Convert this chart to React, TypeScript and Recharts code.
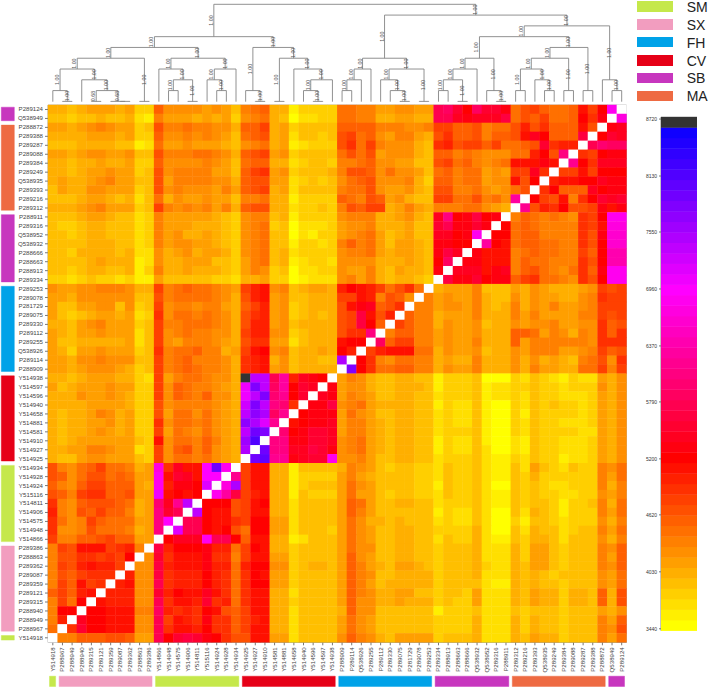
import React from "react";
import { ScatterChart, Scatter, XAxis, YAxis, ReferenceArea } from "recharts";

const FONT = "'Liberation Sans', Arial, sans-serif";

const rowLabels = ["P289124","Q538949","P288872","P289388","P289287","P289088","P289384","P289249","Q538935","P289393","P289216","P289312","P288911","P289316","Q538952","Q538932","P288666","P288663","P288913","P289334","P289253","P289078","P281729","P289075","P289330","P289112","P289255","Q538926","P289114","P288909","Y514938","Y514597","Y514596","Y514940","Y514658","Y514881","Y514581","Y514910","Y514927","Y514925","Y514934","Y514928","Y514924","Y515116","Y514811","Y514906","Y514575","Y514948","Y514866","P289386","P288863","P289362","P289087","P289359","P289121","P289315","P288940","P288949","P288967","Y514918"];
const colLabels = [...rowLabels].reverse();

// Each letter is one level of the colour key; a = lowest, W = highest.
const LEVEL_CODES = "abcdefghijklmnopqrstuvwxyzABCDEFGHIJKLMNOPQRSTUVW";
const KEY_MIN = 3420;
const BAND = 108.6;

// Cells left of the diagonal, top row first, from the first column.
const lowerRows = [
"f fefgggfgdd khhhhghge ijkffbdddd jjiigghhgg vwtqwttr jlmkjjkpmq F",
"e edeefeefcb igggfgfgd hijfeaccdd jjiiffggff vvsrsssu jlkmjjkqnr",
"g gfghihggde liijiihhf kkmfgdeeee kkkkiiihhi mmkklijj lolnkkkpl",
"f fffgggfgdd khhihihge jklfgceede lmjkhgiigf lnkklikk lpsqkkku",
"e eeffffeebc jgghgggfe hijfgbcddd lnjmihhhfe nolmmkmj jkltnoo",
"g gfghhgghee liiijjihf klmghdeeee jljlghhhfe kkijihhh jjoqly",
"f feffgffgdd khhhhihge jkkffcdeed iijkhhggee lmjkihij ppprp",
"f fefgghggde lhiiiigge kmnghdeeef illkhjhhge jkijjghg mmsn",
"f gffghiggee lgiiiihhf kllggcdede hjklhhhifd kkijjghh plq",
"e gffhhgggde lhihhhgig klmfgceeee ijjlhgghfe lliijhgh jl",
"e eefggfefce jfhgghgge iijffbdddd kjilkghfee mmjjlijh A",
"f ffghigggde mihihigif kllffcdded ilkmmfgigf iiijjhgf",
"e eefggfeecd igggggfed hiiefbdddd hiiiffghfe syqruqr",
"e ddeffeeecd igggfffed hijdeacccd ghhifffgee tvrrtr",
"e edeffeeecd ighffgfed hijeeacbdd ghijgefgee ssqrF",
"e eeefffeecd ighhggfed hijeebddcd ikijgeggfe rrqq",
"e edffffefcc hfghfggfd hijefcdddd hiijgfggfe rus",
"e eeefgfffbc hffgggeed gijefbcddc hhhhfffgfe qw",
"e edeffeefbd iffgfffed gihdeaccdd hggifegffe r",
"d dcdeddcdbb geeeeeddc ffgddabccc higifeffed",
"h gghhiiihff mijkjjihg mophiefggf oqpomjlnj",
"g gfhhhhhhee lijjjjihf lopgheefff mmpoilkh",
"g eegghhehde mhiihiigf kmoghdefff lprskln",
"g edefggfgcd nhjjijihf lnoghdefef lmuplo",
"f feghigggde miijjjihf loogheffff lmuqk",
"g fegghgggce mhijiihhf moohhdefff lnny",
"g eefffffgce mhgiiihgf lnnggcefff pqq",
"g fdgghgggde nijjkiifg mpqhieffgf qo",
"g gfhhihhhee mijkiiihf nopfheffee L",
"g gfghhhgfde mijkjiihf nopgheffff",
"f fefgggffdc mgijjihhf WKKvAosrq",
"g efggghggdd mhkjiihgf HOKwAqts",
"f ffhgghgfdd mhkjikhhf HKOxzqt",
"f fffggggfdd lhiiiihgf JOKyxn",
"f effgihfgdd lgjjhjhgf KNLwz",
"f effgghfgdd nhjjijhgf NLIz",
"f effghgfgdd mgjihjhgf KPO",
"f efgggggged phjjikigf MR",
"f fggiihggcd mhklikhgf L",
"f eeghhggged mhjjijhgf",
"l ihjkmjjifg EnsppGPF",
"l khjlljkjgg FptspGG",
"k ihkmmkkkgf ForrqI",
"l kimnnkklgg Hpqpq",
"n ihklllkjfg xszK",
"o ihlkmkkifg ytv",
"n jhimkjjjgg yG",
"n hhiljjjifg y",
"m iikklmkkgg",
"imlpppmnoi",
"illnnmnmq",
"imlopoom",
"ilkmnnn",
"imkpmn",
"kmkop",
"imjq",
"iqq",
"io",
"j",
"",
];

// Cells right of the diagonal, top row first, ending at the last column.
const upperRows = [
"",
"E",
"rs",
"qts",
"vxww",
"nmqrr",
"zqnsss",
"mmpmqqq",
"oppqqsrr",
"nqkkksqrr",
"qmlpinqtst",
"zlonqllmrpr",
"ikjijihnmqFF",
"qjkjiiiinmpEE",
"qqjkkiiiinlrDD",
"AqpjkkjjiinlqDD",
"rpppijkjjiimkqBB",
"rrpppikjjiiinlqBB",
"sssprsikljihjnkrFF",
"urrtqrrkmnjjihnlqFF",
"fgggieee gfhgfffghm lm",
"i ghggifee hfhggffhin mm",
"ii ghhgifef ifhgigghim mm",
"kii fgggifff igiggggiim lm",
"mkii fhggheff hghhigghhn kl",
"ikkii ghgghfff kkjgihfihn kn",
"wkmmii ghggifff kgiiiiiihn nn",
"mopppjj fhggheff hgiiigghim kl",
"qnihjjii fgffifff hfhfgfeijl hn",
"Oqnjjkkii fhggifff hfiggffjjm im",
"gihfeeffee bdddeaaa dcedcbdccg fh",
"r ghhfeefffe bdddebcc ddeddcdddh fh",
"sr gihgeeffee cdddebcc dceddcccdg fh",
"rru hijgffffee bdccebaa dcededdcdg fh",
"qrrr gjhgeeffee cdccebaa dbeddddcdg fh",
"pqrrs giigfeffee cdccebaa dceddcccdg fh",
"xqrtts giigfeffee cdddebaa dceddddccg fh",
"yyrrtts hijgfeffee bdccebaa cbeddcccdg fh",
"Pyyssutr hijgfeffee bdccecaa cbeddcccdg fh",
"PQzzrsttF hhigeeffee cdddecbb dceddbccdg fh",
"mppffbeeee fihgedeedd ceddecbb ecgedceddi hj",
"z mppffbdddd gigfeeeedd ceddecbb edfddddddi gj",
"EL mppffbdeee gjhgeeeedd beddecaa ededccdddi fi",
"FAu mopffbeddd gjggedeedd ceddecbb ededdccddh gi",
"qqql mpqffceeee gkjgeeffee cdddecbb edeedbddei fj",
"Kqppl mppffceeee gkigeeeeee bdccecaa ecfedbdddi gj",
"vvqppn mqqggceeee gjhffefeee cdccecaa dbeedcdddh fi",
"Ivvqpql jqqggceeed gjhgeeffee ddddfcaa ecfeecdeei gj",
"qsssFvvq kppffbceee gjhgeeffee ceddfcbb edffeceeeh fi",
"uoqqqrooj mqpffdeeee gjhheeffee deeefccc fdggedeeei hk",
"ht npppr nni mppggdeeee gkhgeeffee deeefccc fdggedeeei gk",
"hhu opppr ooj oqqhhdeffe gkigfeggfe deeefdcc feggedeeei hk",
"ohhu nooo qonj nqpggdeeee gkiheeffff deeefccc fefedeeeeh gj",
"ophhv nooo qonj nqqggdeeee gkigefffff deeeecbb fefeedeeeh gj",
"ooohht oqppspnj nppffceeee gkihffggee deedgccc fegffdffek fl",
"pooohhv npp otnoj nppffdeeee gkhhffgfff deddgccc fegffdffek fl",
"qqpppiiw onon qplk mppffceeee fkhheeeeee bdddeccc edeeedeeeg fh",
"sqqppphhv mponrnnk mopffceeee gjhgeeeeee ddddfccc fdfeedeeei gk",
"ntqqppphhv nppoqnnk mppffceeee gjhgeeeeee ddddfccc fdfeedeeei hl",
"iikkkllkggv qtutrqnl lppggceeee hkihfegggg deeefccc fegffdeeei gj",
];

const GROUP_COLORS = { SM: "#C5E84B", SX: "#F29DBF", FH: "#00A2E8", CV: "#E60017", SB: "#C736BE", MA: "#EE6A42" };
const legendNames = ["SM", "SX", "FH", "CV", "SB", "MA"];
// Each colour strip: its group and the first and last column it covers.
const stripGroups = ["SM", "SX", "SM", "CV", "FH", "SB", "MA", "SB"];
const stripStarts = [0, 1, 11, 20, 30, 40, 48, 58];
const stripEnds = [1, 11, 20, 30, 40, 48, 58, 60];

const keyTicks = [3440, 4030, 4620, 5200, 5790, 6370, 6960, 7550, 8130, 8720];

// Dendrogram merges: id, left child, right child, height rank, support label.
const merges = [
["a1",1,2,0,"1.00"],["a",0,"a1",1,"1.00"],["c1",4,5,0,"0.68"],["c3",7,8,0,""],["c2",6,"c3",0,"0.68"],
["c","c1","c2",1,"1.00"],["b",3,"c",2,"1.00"],["d","a","b",3,"1.00"],["e",9,10,0,"1.00"],["f","d","e",4,"1.00"],
["h",12,13,1,"1.00"],["i1",14,15,0,"1.00"],["i","h","i1",2,"1.00"],["j",11,"i",3,"1.00"],["k1",17,18,1,"1.00"],
["k2",16,"k1",2,"1.00"],["k","k2",19,3,"1.00"],["l","j","k",4,"1.00"],["m","f","l",5,"1.00"],["n1",21,22,0,"1.00"],
["n",20,"n1",1,"1.00"],["o",23,24,0,"1.00"],["p1",27,28,0,"1.00"],["p2",26,"p1",1,"1.00"],["p3","p2",29,2,"1.00"],
["p",25,"p3",3,"1.00"],["q","o","p",4,"1.00"],["r","n","q",5,"1.00"],["s","m","r",6,"1.00"],
["t",30,31,1,"1.00"],["u","t",32,2,"1.00"],["v","u",33,3,"1.00"],["x1",36,37,0,"1.00"],["x2",35,"x1",1,"1.00"],
["w",34,"x2",2,"1.00"],["x3",38,39,0,"1.00"],["x","w","x3",3,"1.00"],["y","v","x",4,"1.00"],
["f1",40,41,1,"1.00"],["f2",42,43,0,"1.00"],["f3","f1","f2",2,"1.00"],["ff","f3",44,3,"1.00"],
["g1",46,47,0,"1.00"],["g2",45,"g1",1,"1.00"],["dd","ff","g2",4,"1.00"],
["h1",48,49,1,"1.00"],["h2",51,52,1,"1.00"],["h3",50,"h2",2,"1.00"],["hh","h1","h3",3,"1.00"],["h4",53,54,1,"1.00"],
["gg","hh","h4",4,"1.00"],["h5",55,56,1,"1.00"],["ee","gg","h5",5,"1.00"],["bb","dd","ee",6,"1.00"],
["c4",58,59,1,"1.00"],["cc",57,"c4",2,"1.00"],["aa","bb","cc",7,"1.00"],["z","y","aa",8,"1.00"],["root","s","z",9,""],
];

const N = rowLabels.length;
const clean = (s: string) => s.replace(/[^A-Za-z]/g, "");
const valueOfCode = (ch: string) => KEY_MIN + BAND * (LEVEL_CODES.indexOf(ch) + 0.5);

function colorOf(value: number) {
  const k = Math.floor((value - KEY_MIN) / BAND);
  if (k >= 48) return "#333333";
  const hex = (n: number) => Math.round(n).toString(16).padStart(2, "0");
  if (k <= 16) return `#ff${hex(255 * (1 - k / 16))}00`;
  if (k <= 32) return `#ff00${hex((255 * (k - 16)) / 16)}`;
  return `#${hex((255 * (48 - k)) / 16)}00ff`;
}

const heatCells: { x: number; y: number; value: number | null }[] = [];
rowLabels.forEach((_, r) => {
  const low = clean(lowerRows[r]);
  const up = clean(upperRows[r]);
  for (let c = 0; c < N; c++) {
    const diag = N - 1 - r;
    let ch = "";
    if (c < diag) ch = low[c] ?? "";
    else if (c > diag) ch = up[c - diag - 1] ?? "";
    heatCells.push({ x: c + 0.5, y: N - 0.5 - r, value: ch ? valueOfCode(ch) : null });
  }
});

const keyBands = LEVEL_CODES.split("").map((ch) => ({ x: 0.5, y: valueOfCode(ch), value: valueOfCode(ch) }));

// Layout of the tree from the merges
const nodes: Record<string, { x: number; rank: number }> = {};
const nodeOf = (id: any) => (typeof id === "number" ? { x: id + 0.5, rank: -0.03 } : nodes[id]);
const treeLinks: { x: number; y: number }[][] = [];
const treeLabels: { x: number; y: number; text: string; side: string }[] = [];
merges.forEach(([id, l, r, rank]: any) => {
  const a = nodeOf(l);
  const b = nodeOf(r);
  nodes[id] = { x: (a.x + b.x) / 2, rank };
  treeLinks.push([
    { x: a.x, y: a.rank },
    { x: a.x, y: rank },
    { x: b.x, y: rank },
    { x: b.x, y: b.rank },
  ]);
});
merges.forEach(([, l, r, rank]: any) => {
  [[l, "left"], [r, "right"]].forEach(([child, side]: any) => {
    if (typeof child !== "string") return;
    const m: any = merges.find((mm) => mm[0] === child);
    if (m && m[4]) treeLabels.push({ x: nodes[child].x, y: (nodes[child].rank + rank) / 2, text: m[4], side });
  });
});

const PLOT_W = 578.5;
const PLOT_H = 537.3;
const CW = PLOT_W / N;
const CH = PLOT_H / N;
const pxToColumn = (px: number) => px / CW;
const pxToRow = (px: number) => px / CH;

const HeatCell = (props: any) => {
  const { cx, cy, payload } = props;
  const fill = payload.value == null ? "#ffffff" : colorOf(payload.value);
  return <rect x={cx - CW / 2 - 0.2} y={cy - CH / 2 - 0.2} width={CW + 0.4} height={CH + 0.4} fill={fill} />;
};

const KEY_W = 36;
const KEY_H = 513.7;
const KEY_MAX = KEY_MIN + BAND * LEVEL_CODES.length;
const KeyBand = (props: any) => {
  const { cx, cy, payload } = props;
  const h = (KEY_H / (KEY_MAX - KEY_MIN)) * BAND;
  return <rect x={cx - KEY_W / 2} y={cy - h / 2 - 0.2} width={KEY_W} height={h + 0.4} fill={colorOf(payload.value)} />;
};

const BottomTick = ({ x, y, payload }: any) => (
  <text x={x + 2} y={y} textAnchor="end" transform={`rotate(-90 ${x + 2} ${y})`} fontSize={6.1} fontFamily={FONT} fill="#444">
    {colLabels[Math.floor(payload.value)]}
  </text>
);
const LeftTick = ({ x, y, payload }: any) => (
  <text x={x} y={y + 2} textAnchor="end" fontSize={6.1} fontFamily={FONT} fill="#444">
    {rowLabels[N - 1 - Math.floor(payload.value)]}
  </text>
);
const KeyTick = ({ x, y, payload }: any) => (
  <text x={x} y={y + 1.8} textAnchor="end" fontSize={5} fontFamily={FONT} fill="#333">
    {payload.value}
  </text>
);
const TreeLabel = ({ cx, cy, payload }: any) => {
  const x = cx + (payload.side === "left" ? -1 : 1.4);
  return (
    <text x={x} y={cy} textAnchor="middle" transform={`rotate(-90 ${x} ${cy})`} fontSize={5.3} fontFamily={FONT} fill="#555">
      {payload.text}
    </text>
  );
};
const NoMark = () => <g />;

const centres = rowLabels.map((_, i) => i + 0.5);
const abs = (left: number, top: number): React.CSSProperties => ({ position: "absolute", left, top });

export default function App() {
  return (
    <div style={{ position: "absolute", left: 0, top: 0, width: 709, height: 688, background: "#fff", overflow: "hidden" }}>
      <div style={abs(0, 0)}>
        <ScatterChart width={709} height={688} margin={{ top: 105, right: 82.5, bottom: 0, left: 0 }}>
          <XAxis
            type="number" dataKey="x" domain={[0, N]} ticks={centres} interval={0} height={45.7}
            tick={BottomTick} tickLine={{ stroke: "#777" }} axisLine={{ stroke: "#999" }} tickSize={3} tickMargin={2}
          />
          <YAxis
            type="number" dataKey="y" domain={[0, N]} ticks={centres} interval={0} width={48}
            tick={LeftTick} tickLine={{ stroke: "#777" }} axisLine={{ stroke: "#ccc" }} tickSize={3} tickMargin={2}
          />
          <Scatter data={heatCells} shape={HeatCell} isAnimationActive={false} />
          <ReferenceArea x1={0} x2={N} y1={0} y2={N} fill="none" stroke="#aaa" strokeWidth={0.8} ifOverflow="visible" />
          {stripGroups.map((g, i) => (
            <ReferenceArea
              key={"b" + i}
              x1={stripStarts[i] + pxToColumn(1.5)}
              x2={stripEnds[i] - pxToColumn(2)}
              y1={-pxToRow(44.2)}
              y2={-pxToRow(33.9)}
              fill={(GROUP_COLORS as any)[g]}
              fillOpacity={1}
              stroke={(GROUP_COLORS as any)[g]}
              strokeOpacity={0.45}
              ifOverflow="visible"
            />
          ))}
          {stripGroups.map((g, i) => (
            <ReferenceArea
              key={"l" + i}
              x1={-pxToColumn(46.7)}
              x2={-pxToColumn(33.7)}
              y1={stripStarts[i] + pxToRow(2.2)}
              y2={stripEnds[i] - pxToRow(2.2)}
              fill={(GROUP_COLORS as any)[g]}
              fillOpacity={1}
              stroke={(GROUP_COLORS as any)[g]}
              strokeOpacity={0.45}
              ifOverflow="visible"
            />
          ))}
        </ScatterChart>
      </div>

      <div style={abs(0, 0)}>
        <ScatterChart width={709} height={105} margin={{ top: 4.3, right: 82.5, bottom: 3.3, left: 48 }}>
          <XAxis type="number" dataKey="x" domain={[0, N]} hide />
          <YAxis type="number" dataKey="y" domain={[-0.03, 9]} hide />
          {treeLinks.map((pts, i) => (
            <Scatter key={i} data={pts} shape={NoMark} line={{ stroke: "#858585", strokeWidth: 0.9 }} isAnimationActive={false} />
          ))}
          <Scatter data={treeLabels} shape={TreeLabel} isAnimationActive={false} />
        </ScatterChart>
      </div>

      <div style={abs(636, 110)}>
        <ScatterChart width={73} height={530} margin={{ top: 7, right: 12, bottom: 9.3, left: 0 }}>
          <XAxis type="number" dataKey="x" domain={[0, 1]} hide />
          <YAxis
            type="number" dataKey="y" domain={[KEY_MIN, KEY_MAX]} ticks={keyTicks} interval={0} width={25}
            tick={KeyTick} tickLine={{ stroke: "#777" }} axisLine={{ stroke: "#888" }} tickSize={2} tickMargin={2}
          />
          <Scatter data={keyBands} shape={KeyBand} isAnimationActive={false} />
        </ScatterChart>
      </div>

      {legendNames.map((name, i) => (
        <React.Fragment key={name}>
          <div style={{ ...abs(636.7, [1, 19, 36.7, 55, 72.7, 90.7][i]), width: 36, height: 10.8, background: (GROUP_COLORS as any)[name] }} />
          <div style={{ ...abs(686.7, [-1.5, 16.5, 34.5, 52.5, 70, 88][i]), fontFamily: FONT, fontSize: 14, lineHeight: "16px", color: "#222" }}>{name}</div>
        </React.Fragment>
      ))}
    </div>
  );
}
